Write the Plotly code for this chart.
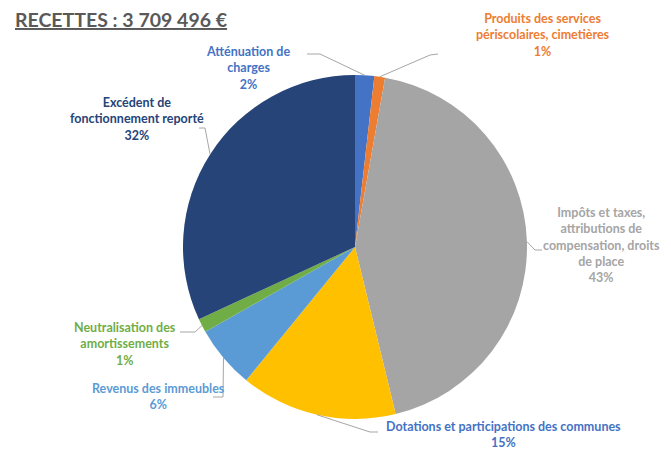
import math
import plotly.graph_objects as go

W, H = 671, 449
OFF = 8  # marge du <body> de la page

# données (parts en %)
categories = [
    "Atténuation de charges",
    "Produits des services périscolaires, cimetières",
    "Impôts et taxes, attributions de compensation, droits de place",
    "Dotations et participations des communes",
    "Revenus des immeubles",
    "Neutralisation des amortissements",
    "Excédent de fonctionnement reporté",
]
parts = [1.8, 1.0, 43.4, 14.7, 5.9, 1.3, 31.9]
pct_labels = ["2%", "1%", "43%", "15%", "6%", "1%", "32%"]
label_lines = [
    ["Atténuation de", "charges"],
    ["Produits des services", "périscolaires, cimetières"],
    ["Impôts et taxes,", "attributions de", "compensation, droits", "de place"],
    ["Dotations et participations des communes"],
    ["Revenus des immeubles"],
    ["Neutralisation des", "amortissements"],
    ["Excédent de", "fonctionnement reporté"],
]
slice_colors = ["#4472C4", "#ED7D31", "#A5A5A5", "#FFC000", "#5B9BD5", "#70AD47", "#264478"]
text_colors = ["#4472C4", "#ED7D31", "#A5A5A5", "#4472C4", "#5B9BD5", "#70AD47", "#264478"]

# mise en page (pixels de la capture)
cx, cy, r = 355, 247, 172
label_pos = [(248, 68), (543, 35), (601, 245), (503, 434), (158, 396), (125, 344), (137, 119)]
leader_elbow = [(320, 54), (430, 55), (535, 250), (370, 432), (223, 397), (195, 332), (205, 128)]
leader_end = [(307, 54), (438, 54), (542, 250), (378, 432), (213, 397), (180, 332), (199, 128)]

def px(x):
    return (x - OFF) / W

def py(y):
    return 1 - (y - OFF) / H

fig = go.Figure(go.Pie(
    labels=categories,
    values=parts,
    sort=False,
    direction="clockwise",
    rotation=0,
    marker=dict(colors=slice_colors, line=dict(width=0)),
    textinfo="none",
    hoverinfo="label+percent",
    domain=dict(x=[px(cx - r), px(cx + r)], y=[py(cy + r), py(cy - r)]),
    showlegend=False,
))

total = sum(parts)
cum = 0
for i, v in enumerate(parts):
    mid = (cum + v / 2) / total * 2 * math.pi
    cum += v
    ex, ey = cx + r * math.sin(mid), cy - r * math.cos(mid)
    (bx, by), (tx, ty) = leader_elbow[i], leader_end[i]
    fig.add_shape(
        type="path",
        path=f"M {px(ex)},{py(ey)} L {px(bx)},{py(by)} L {px(tx)},{py(ty)}",
        xref="paper", yref="paper",
        line=dict(color="#A6A6A6", width=1),
    )
    lx, ly = label_pos[i]
    fig.add_annotation(
        x=px(lx), y=py(ly), xref="paper", yref="paper",
        xanchor="center", yanchor="middle",
        text="<b>" + "<br>".join(label_lines[i] + [pct_labels[i]]) + "</b>",
        showarrow=False, align="center",
        font=dict(family="Lato", size=12.5, color=text_colors[i]),
    )

fig.add_annotation(
    x=px(13), y=py(20), xref="paper", yref="paper",
    xanchor="left", yanchor="middle",
    text="<u><b>RECETTES : 3 709 496 €</b></u>",
    showarrow=False,
    font=dict(family="Lato", size=19.5, color="#595959"),
)

fig.update_layout(
    width=W, height=H,
    margin=dict(l=0, r=0, t=0, b=0),
    paper_bgcolor="white",
    plot_bgcolor="white",
)

fig.write_html("out.html")
